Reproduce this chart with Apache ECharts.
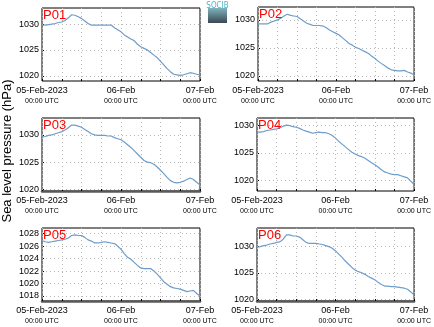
<!DOCTYPE html>
<html><head><meta charset="utf-8">
<script src="https://cdn.jsdelivr.net/npm/echarts@6/dist/echarts.min.js"></script>
<style>html,body{margin:0;padding:0;background:#fff}#c{width:434px;height:327px}</style>
</head><body><div id="c"></div>
<script>
const hours = [0,1,2,3,4,5,6,7,8,9,10,11,12,13,14,15,16,17,18,19,20,21,22,23,24,25,26,27,28,29,30,31,32,33,34,35,36,37,38,39,40,41,42,43,44,45,46,47,48];
const xTickLabels = {0: '05-Feb-2023', 24: '06-Feb', 48: '07-Feb'};
const timeLabel = '00:00 UTC';
const panelNames = ['P01','P02','P03','P04','P05','P06'];

const p01 = [1029.8,1029.8,1029.9,1030.0,1030.1,1030.3,1030.4,1030.7,1031.2,1031.8,1031.7,1031.4,1031.1,1030.6,1030.1,1029.8,1029.8,1029.8,1029.8,1029.8,1029.8,1029.8,1029.3,1028.9,1028.5,1027.9,1027.5,1027.1,1026.8,1026.1,1025.6,1025.3,1025.0,1024.5,1024.0,1023.5,1022.8,1022.1,1021.4,1020.8,1020.3,1020.2,1020.1,1020.2,1020.4,1020.6,1020.5,1020.3,1020.2];
const p02 = [1029.3,1029.3,1029.3,1029.3,1029.6,1029.8,1030.0,1030.3,1030.7,1031.0,1030.8,1030.7,1030.6,1030.2,1029.8,1029.4,1029.2,1029.0,1029.0,1029.0,1028.9,1028.6,1028.2,1027.9,1027.6,1027.3,1026.8,1026.3,1025.8,1025.5,1025.1,1024.9,1024.6,1024.3,1024.0,1023.5,1023.1,1022.6,1022.2,1021.8,1021.4,1021.1,1021.0,1020.9,1020.9,1021.0,1020.7,1020.5,1020.2];
const p03 = [1029.6,1029.7,1029.9,1030.0,1030.2,1030.4,1030.6,1030.9,1031.3,1031.8,1031.8,1031.6,1031.4,1031.0,1030.6,1030.2,1030.0,1029.9,1029.9,1029.9,1029.8,1029.8,1029.5,1029.3,1029.1,1028.7,1028.2,1027.7,1027.1,1026.5,1025.9,1025.3,1025.0,1024.9,1024.6,1024.1,1023.5,1022.9,1022.2,1021.6,1021.3,1021.2,1021.3,1021.5,1021.8,1022.1,1021.8,1021.3,1020.8];
const p04 = [1028.8,1028.8,1028.9,1029.1,1029.2,1029.3,1029.4,1029.6,1029.9,1030.1,1030.0,1029.8,1029.7,1029.5,1029.2,1029.0,1028.8,1028.6,1028.7,1028.8,1028.7,1028.7,1028.5,1028.2,1027.7,1027.1,1026.6,1026.1,1025.6,1025.1,1024.8,1024.5,1024.3,1024.0,1023.6,1023.2,1022.8,1022.4,1021.9,1021.5,1021.3,1021.1,1021.0,1021.0,1020.8,1020.6,1020.4,1019.8,1019.2];
const p05 = [1026.9,1026.7,1026.6,1026.7,1026.8,1026.9,1027.0,1027.1,1027.3,1027.7,1027.8,1027.7,1027.7,1027.4,1027.0,1026.8,1026.5,1026.5,1026.6,1026.7,1026.6,1026.5,1026.4,1026.0,1025.5,1024.8,1024.2,1023.9,1023.4,1022.9,1022.5,1022.4,1022.4,1022.4,1022.0,1021.5,1020.9,1020.3,1019.9,1019.5,1019.3,1019.2,1019.1,1018.9,1018.7,1018.8,1018.9,1018.4,1018.0];
const p06 = [1029.8,1029.9,1030.1,1030.2,1030.4,1030.5,1030.7,1030.8,1031.3,1032.1,1032.1,1031.9,1031.9,1031.7,1031.2,1030.7,1030.5,1030.5,1030.5,1030.4,1030.3,1030.1,1029.9,1029.6,1029.1,1028.5,1027.9,1027.2,1026.6,1026.0,1025.5,1025.2,1025.0,1024.7,1024.3,1024.0,1023.7,1023.2,1022.8,1022.5,1022.5,1022.4,1022.4,1022.3,1022.2,1022.1,1021.9,1021.4,1020.8];

const yTicks01 = [1020,1025,1030];
const yTicks02 = [1020,1025,1030];
const yTicks03 = [1020,1025,1030];
const yTicks04 = [1020,1025,1030];
const yTicks05 = [1018,1020,1022,1024,1026,1028];
const yTicks06 = [1020,1025,1030];

const yMin = [1019.0,1019.1,1019.7,1018.0,1017.2,1019.7];
const yMax = [1033.1,1032.3,1033.1,1031.4,1028.9,1033.4];

const series = [p01,p02,p03,p04,p05,p06];
const yTicks = [yTicks01,yTicks02,yTicks03,yTicks04,yTicks05,yTicks06];

const grids = [
  {left:42, top:8, width:158, height:73},
  {left:258, top:7, width:157, height:74},
  {left:42, top:118, width:158, height:73},
  {left:257, top:118, width:159, height:73},
  {left:42, top:228, width:158, height:73},
  {left:257, top:228, width:158, height:73}
];
const thickBottom = [false,false,true,false,true,true];

const FONT = 'Liberation Sans';
const GRIDC = '#b8b8b8';
const chart = echarts.init(document.getElementById('c'), null, {renderer:'canvas'});

const option = {
  animation: false,
  backgroundColor: '#fff',
  grid: grids.map(g => Object.assign({show:true, borderColor:'#000', borderWidth:1, backgroundColor:'transparent', containLabel:false}, g)),
  title: grids.map((g,i) => ({
    text: panelNames[i], left: g.left + 1, top: g.top + 1,
    textStyle: {color:'#ff0000', fontSize:13, fontWeight:'normal', fontFamily: FONT},
    padding: 0
  })),
  xAxis: grids.map((g,i) => ({
    type:'value', gridIndex:i, min:0, max:48, interval:6,
    axisLine: {show: thickBottom[i], onZero:false, lineStyle:{color:'#5a5a5a', width:2.5}},
    axisTick: {show:true, inside:true, length:2, lineStyle:{color:'#000'}},
    splitLine: {show:true, lineStyle:{color:GRIDC, type:[1,3], width:1}},
    axisLabel: {
      show:true, margin:4, showMinLabel:true, showMaxLabel:true, hideOverlap:false,
      formatter: v => xTickLabels[v] !== undefined ? '{a|' + xTickLabels[v] + '}\n{b|' + timeLabel + '}' : '',
      rich: {
        a: {fontSize:9, color:'#000', fontFamily:FONT, lineHeight:11, align:'center'},
        b: {fontSize:7, color:'#000', fontFamily:FONT, lineHeight:10, align:'center'}
      }
    }
  })),
  yAxis: grids.map((g,i) => ({
    type:'value', gridIndex:i, min:yMin[i], max:yMax[i],
    axisLine: {show:false},
    axisTick: {show:true, inside:true, length:2, customValues: yTicks[i], lineStyle:{color:'#000'}},
    splitLine: {show:false},
    axisLabel: {show:true, margin:3, customValues: yTicks[i], color:'#000', fontSize:9, fontFamily:FONT,
                formatter: v => String(Math.round(v))}
  })),
  series: series.map((d,i) => ({
    type:'line', xAxisIndex:i, yAxisIndex:i, showSymbol:false, symbol:'none',
    lineStyle:{color:'#6e9dc9', width:1.2}, smooth:false, z:3,
    data: hours.map((h,k) => [h, d[k]]),
    markLine: {
      silent:true, symbol:['none','none'], animation:false, z:1,
      label:{show:false},
      lineStyle:{color:GRIDC, type:[1,3], width:1},
      emphasis:{disabled:true},
      data: yTicks[i].map(v => ({yAxis:v}))
    }
  })),
  graphic: [
    {type:'text', x:7, y:151, rotation:Math.PI/2,
     style:{text:'Sea level pressure (hPa)', fill:'#000', fontSize:13, fontFamily:FONT, textAlign:'center', textVerticalAlign:'middle'}},
    {type:'rect', shape:{x:208, y:8, width:19, height:15},
     style:{fill:{type:'linear', x:0, y:0, x2:0, y2:1, colorStops:[{offset:0, color:'#7fb3bd'},{offset:1, color:'#3a4853'}]}}},
    {type:'text', x:217.5, y:5.5,
     style:{text:'SOCIB', fill:'#3fb6cc', fontSize:8, fontFamily:'DejaVu Sans Condensed', textAlign:'center', textVerticalAlign:'middle'}}
  ]
};
chart.setOption(option);
</script>
</body></html>
